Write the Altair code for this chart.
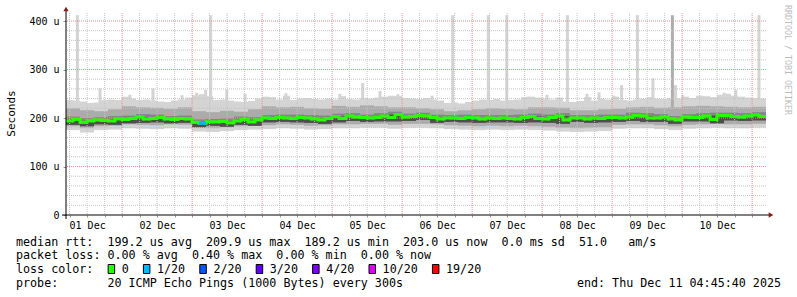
import altair as alt
import pandas as pd

START = "2025-12-01T04:45:40"
END = "2025-12-11T04:45:40"

# median RTT per 2.4 h column (microseconds)
median_us = [194, 197, 191, 194, 196, 195, 194, 198, 197, 199, 202, 198, 199, 201, 198, 197, 199,
             198, 191, 189, 192, 192, 193, 190, 194, 197, 192, 196, 200, 199, 201, 200, 199, 201,
             200, 198, 196, 199, 203, 199, 204, 202, 201, 200, 201, 204, 201, 207, 202, 203,
             205, 204, 201, 198, 200, 200, 199, 201, 200, 198, 200, 199, 200, 199, 198, 201, 203,
             199, 198, 201, 204, 196, 200, 200, 198, 200, 199, 201, 201, 200, 202, 205, 204,
             200, 200, 202, 198, 196, 202, 201, 201, 204, 197, 205, 205, 203, 202, 204, 206, 203]
# lost pings (out of 20) per column
loss_20 = [0] * 19 + [1] + [0] * 80
# top of the lightest smoke per 2.4 h column (microseconds)
smoke_top = [237, 236, 234, 231, 232, 237, 238, 237, 244, 240, 237, 238, 236, 234, 233, 236, 238,
             242, 247, 249, 245, 237, 238, 236, 234, 233, 235, 240, 244, 243, 238, 246, 237, 240,
             241, 239, 238, 240, 238, 245, 239, 238, 241, 240, 242, 244, 246, 245, 241, 240,
             239, 241, 238, 236, 231, 232, 230, 233, 236, 238, 237, 239, 236, 237, 238, 243, 244,
             242, 240, 238, 242, 234, 233, 235, 243, 236, 240, 238, 244, 237, 236, 238, 240,
             243, 240, 239, 241, 240, 244, 241, 246, 245, 243, 248, 250, 246, 244, 242, 241, 240]

# inner smoke bands per 4.8 h column (microseconds)
smoke_hi2 = [220, 216, 214, 218, 224, 222, 221, 219, 222, 214, 212, 215, 213, 218, 224, 222, 223,
             220, 219, 225, 223, 226, 224, 222, 222, 220, 218, 214, 216, 218, 220, 219, 218, 222,
             222, 221, 216, 216, 218, 219, 222, 223, 221, 222, 224, 225, 224, 223, 222, 223]
smoke_hi4 = [203, 200, 202, 204, 205, 208, 207, 204, 205, 197, 198, 199, 203, 202, 206, 207, 207,
             206, 205, 209, 210, 207, 210, 213, 209, 211, 207, 206, 207, 206, 206, 206, 207, 209,
             207, 210, 206, 206, 207, 207, 211, 210, 208, 204, 208, 210, 211, 211, 210, 212]
smoke_hi3 = [197, 194, 196, 198, 199, 202, 201, 198, 199, 191, 192, 193, 197, 196, 200, 201, 201,
             200, 199, 203, 204, 201, 204, 207, 203, 205, 201, 200, 201, 200, 200, 200, 201, 203,
             201, 204, 200, 200, 201, 201, 205, 204, 202, 198, 202, 204, 205, 205, 204, 206]
smoke_lo3 = [186, 183, 187, 186, 189, 190, 191, 189, 190, 181, 184, 182, 186, 184, 191, 192, 191,
             190, 188, 191, 194, 192, 193, 193, 194, 196, 190, 192, 191, 190, 191, 191, 190, 191,
             190, 188, 192, 190, 191, 192, 194, 192, 192, 188, 193, 193, 189, 195, 194, 195]
smoke_lo2 = [183, 179, 183, 184, 187, 186, 185, 187, 186, 180, 179, 181, 183, 184, 185, 187, 186,
             184, 185, 187, 187, 188, 188, 186, 188, 188, 187, 185, 184, 183, 184, 183, 184, 183,
             182, 180, 179, 180, 181, 186, 187, 187, 185, 183, 186, 187, 188, 187, 187, 188]
smoke_lo = [175, 170, 175, 176, 179, 178, 177, 179, 178, 172, 171, 173, 175, 176, 177, 179, 178,
            176, 177, 179, 179, 180, 180, 178, 180, 180, 179, 177, 176, 175, 176, 175, 176, 175,
            174, 172, 171, 172, 173, 178, 179, 179, 177, 175, 178, 179, 180, 179, 179, 180]

# isolated slow pings
spike_time = ["2025-12-01T08:40", "2025-12-01T16:25", "2025-12-02T02:40", "2025-12-02T10:35",
              "2025-12-02T20:33", "2025-12-03T01:33", "2025-12-03T04:40", "2025-12-03T06:22",
              "2025-12-03T11:53", "2025-12-03T18:10", "2025-12-04T08:10", "2025-12-05T02:40",
              "2025-12-05T10:29", "2025-12-05T16:25", "2025-12-05T22:33", "2025-12-06T10:15",
              "2025-12-06T17:20", "2025-12-07T05:33", "2025-12-07T11:53", "2025-12-07T19:10",
              "2025-12-08T01:39", "2025-12-08T08:40", "2025-12-08T15:22", "2025-12-08T19:30",
              "2025-12-09T00:39", "2025-12-09T03:15", "2025-12-09T08:40", "2025-12-09T14:00",
              "2025-12-09T20:40", "2025-12-09T21:45", "2025-12-10T00:15", "2025-12-10T14:21",
              "2025-12-10T18:27", "2025-12-11T02:21"]
spike_top = [412, 261, 248, 261, 247, 252, 258, 412, 259, 250, 251, 250,
             272, 256, 249, 246, 412, 412, 412, 244, 248, 412, 250, 253,
             246, 268, 412, 282, 412, 268, 247, 252, 258, 412]
spike_shade = ["l"] * 28 + ["d"] + ["l"] * 5

loss_levels = [0, 1, 2, 3, 4, 10, 19]
loss_labels = ["0", "1/20", "2/20", "3/20", "4/20", "10/20", "19/20"]
loss_colors = ["#26ff00", "#00b8ff", "#0059ff", "#5e00ff", "#7e00ff", "#dd00ff", "#ff0000"]

y_ticks = [0, 100, 200, 300, 400]

stat_line1 = "median rtt:  199.2 us avg  209.9 us max  189.2 us min  203.0 us now  0.0 ms sd  51.0   am/s"
stat_line2 = "packet loss: 0.00 % avg  0.40 % max  0.00 % min  0.00 % now"
probe_line = "probe:       20 ICMP Echo Pings (1000 Bytes) every 300s"
end_line = "end: Thu Dec 11 04:45:40 2025"

assert len(median_us) == 100 and len(loss_20) == 100 and len(smoke_top) == 100
for a in (smoke_hi2, smoke_hi4, smoke_hi3, smoke_lo3, smoke_lo2, smoke_lo):
    assert len(a) == 50
assert len(spike_time) == len(spike_top) == len(spike_shade)

NB = "\u00a0"
MONO = "DejaVu Sans Mono"
GREEN = loss_colors[0]

# ---------------- data frames ----------------
t_med = pd.date_range(START, periods=101, freq="8640s")
med_seg_df = pd.DataFrame({"t0": t_med[:-1], "t1": t_med[1:], "v": median_us,
                           "top": smoke_top, "loss": loss_20})
# vertical risers of the stepped median line (between neighbouring columns)
riser_df = pd.DataFrame({"t": t_med[1:-1], "v0": median_us[:-1], "v1": median_us[1:]})

t_sm = pd.date_range(START, periods=51, freq="17280s")
smoke_df = pd.DataFrame({"t0": t_sm[:-1], "t1": t_sm[1:],
                         "hi2": smoke_hi2, "hi4": smoke_hi4, "hi3": smoke_hi3,
                         "lo3": smoke_lo3, "lo2": smoke_lo2, "lo": smoke_lo})
spike_df = pd.DataFrame({"t": spike_time, "top": spike_top, "shade": spike_shade})

major_x = pd.date_range("2025-12-02", "2025-12-11", freq="D")
six_h = pd.date_range("2025-12-01 06:00", "2025-12-11 00:00", freq="6h")
minor_x = [t for t in six_h if t.hour != 0]
major_y = [100, 200, 300, 400]
minor_y = [v for v in range(20, 420, 20) if v % 100 != 0]


def dt(t):
    return alt.DateTime(year=t.year, month=t.month, date=t.day, hours=t.hour,
                        minutes=t.minute, seconds=t.second)


xscale = alt.Scale(domain=[dt(pd.Timestamp(START)), dt(pd.Timestamp(END))])
yscale = alt.Scale(domain=[0, 416.5], nice=False, zero=False)

X_AX = alt.Axis(values=[dt(t) for t in six_h],
                labelExpr="hours(datum.value) == 12 ? timeFormat(datum.value, '%d %b') : ''",
                labelOverlap=False, labelFont=MONO, labelFontSize=10, labelColor="black",
                labelPadding=3, tickSize=2, tickColor="#999999", domain=False, grid=False, title=None)
Y_AX = alt.Axis(values=y_ticks,
                labelExpr=f"datum.value == 0 ? '0{NB}{NB}' : datum.value + '{NB}u'",
                labelFont=MONO, labelFontSize=10, labelColor="black", labelPadding=4,
                tickSize=3, tickColor="#999999", domain=False, grid=False,
                title="Seconds", titleFont=MONO, titleFontSize=11, titleFontWeight="normal",
                titleColor="black", titleAngle=-90, titleX=-55, titleY=100,
                titleBaseline="middle", titleAlign="center")


def X(field):
    return alt.X(field, scale=xscale, axis=X_AX, title=None)


def Y(field):
    return alt.Y(field, scale=yscale, axis=Y_AX, title="Seconds")


one = pd.DataFrame({"a": [0]})

# ---------------- smoke ----------------
def band(lo, hi, color):
    return alt.Chart(smoke_df).mark_rect(color=color).encode(
        x=X("t0:T"), x2="t1:T", y=Y(f"{lo}:Q"), y2=f"{hi}:Q")

LIGHT = "#d4d4d4"
l1_top = alt.Chart(med_seg_df).mark_rect(color=LIGHT).encode(
    x=X("t0:T"), x2="t1:T", y=Y("top:Q"), y2="v:Q")
l1_low = band("lo", "hi2", LIGHT)
spikes = alt.Chart(spike_df).mark_rule(strokeWidth=3).encode(
    x=X("t:T"), y=Y("top:Q"), y2=alt.datum(222),
    color=alt.condition("datum.shade == 'd'", alt.value("#aeaeae"), alt.value(LIGHT)))
l2 = band("lo2", "hi2", "#ababab")
l2b = band("lo3", "hi4", "#858585")
l3 = band("lo3", "hi3", "#4e4e4e")

# ---------------- grid (over the smoke, under the median) ----------------
gx_minor = alt.Chart(pd.DataFrame({"t": minor_x})).mark_rule(strokeDash=[1, 1], color="#c4c4c4").encode(x=X("t:T"))
gx_major = alt.Chart(pd.DataFrame({"t": major_x})).mark_rule(strokeDash=[1, 1], color="#e89090").encode(x=X("t:T"))
gy_minor = alt.Chart(pd.DataFrame({"v": minor_y})).mark_rule(strokeDash=[1, 1], color="#c4c4c4").encode(y=Y("v:Q"))
gy_major = alt.Chart(pd.DataFrame({"v": major_y})).mark_rule(strokeDash=[1, 1], color="#e89090").encode(y=Y("v:Q"))

# ---------------- median ----------------
risers = alt.Chart(riser_df).mark_rule(strokeWidth=3, color=GREEN, strokeCap="square").encode(
    x=X("t:T"), y=Y("v0:Q"), y2="v1:Q")
med_seg = alt.Chart(med_seg_df).mark_rule(strokeWidth=3).encode(
    x=X("t0:T"), x2="t1:T", y=Y("v:Q"),
    color=alt.Color("loss:O", scale=alt.Scale(domain=loss_levels, range=loss_colors), legend=None))

# ---------------- axes lines and arrows ----------------
ax_x = alt.Chart(one).mark_rule(color="black", strokeWidth=1).encode(
    x=alt.value(-4), x2=alt.value(704), y=alt.value(202))
ax_y = alt.Chart(one).mark_rule(color="black", strokeWidth=1).encode(
    x=alt.value(0), y=alt.value(206), y2=alt.value(-3))
arr_up = alt.Chart(one).mark_point(shape="triangle-up", filled=True, color="#8b1a1a", size=28, opacity=1).encode(
    x=alt.value(0), y=alt.value(-4))
arr_right = alt.Chart(one).mark_point(shape="triangle-right", filled=True, color="#8b1a1a", size=28, opacity=1).encode(
    x=alt.value(705), y=alt.value(202))

# ---------------- text ----------------
def txt(s, x, y, size=11.7, align="left", color="black", angle=0):
    return alt.Chart(one).mark_text(font=MONO, fontSize=size, align=align, baseline="middle",
                                    color=color, angle=angle).encode(
        x=alt.value(x), y=alt.value(y), text=alt.value(s.replace(" ", NB)))

CW = 7.05
texts = [
    txt(stat_line1, -50, 228.7),
    txt(stat_line2, -50, 242),
    txt("loss color:", -50, 256.3),
    txt(probe_line, -50, 270.3),
    txt(end_line, 715, 270.3, align="right"),
    txt("RRDTOOL / TOBI OETIKER", 720.5, -8, size=8.3, color="#bdbdbd", angle=90),
]
box_chars = [13, 18, 26, 34, 42, 50, 59]
boxes = []
for ch, lab, col in zip(box_chars, loss_labels, loss_colors):
    bx = -50 + ch * CW
    boxes.append(alt.Chart(one).mark_rect(fill=col, stroke="black", strokeWidth=1).encode(
        x=alt.value(bx + 0.5), x2=alt.value(bx + 7), y=alt.value(251.5), y2=alt.value(260.5)))
    boxes.append(txt(lab, bx + 2 * CW, 256.3))

chart = alt.layer(
    l1_top, l1_low, spikes, l2, l2b, l3,
    gx_minor, gy_minor, gx_major, gy_major,
    risers, med_seg,
    ax_x, ax_y, arr_up, arr_right, *texts, *boxes
).resolve_scale(
    color="independent"
).properties(
    width=700, height=202,
    autosize=alt.AutoSizeParams(type="none"),
    padding={"left": 66, "top": 13, "right": 31, "bottom": 82},
    background="white",
).configure_view(strokeWidth=0)

chart.save("out.html", embed_options={"renderer": "svg", "actions": False})
